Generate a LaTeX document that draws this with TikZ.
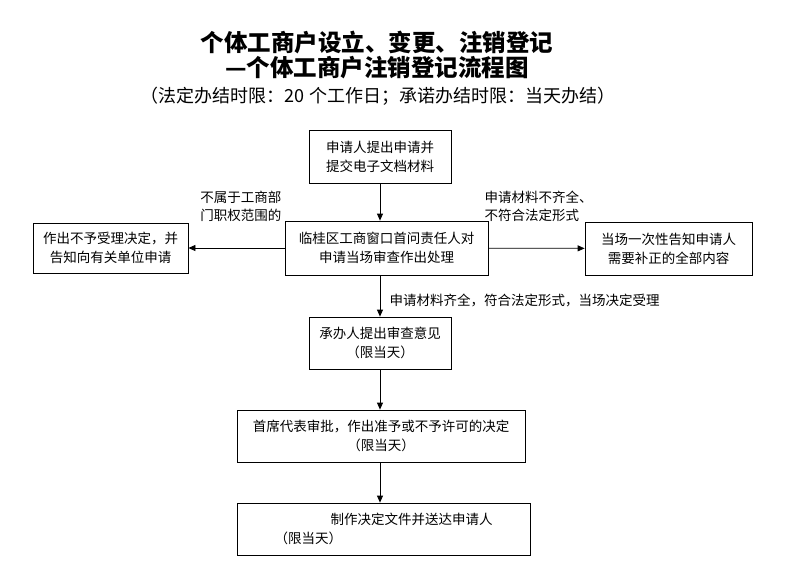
\documentclass[tikz,border=0pt]{standalone}
\usepackage{fontspec}
\setmainfont{Noto Sans CJK SC}
\usetikzlibrary{arrows.meta}
\tikzset{
  box/.style={draw,thick,align=center,font=\fontsize{13.5}{19}\selectfont,inner sep=2pt},
  flow/.style={thick,-{Triangle[length=7pt,width=6pt]}},
  note/.style={font=\fontsize{13.5}{18}\selectfont,align=left}
}
\begin{document}
\begin{tikzpicture}[x=1pt,y=-1pt]
      \useasboundingbox (0,0) rectangle (803,587);

      % titles
      \path (377,42) node {\fontsize{23.5}{26}\selectfont\bfseries 个体工商户设立、变更、注销登记};
      \path (377,68) node {\fontsize{23.5}{26}\selectfont\bfseries —个体工商户注销登记流程图};
      \path (378,96) node {\fontsize{18}{20}\selectfont （法定办结时限：20 个工作日；承诺办结时限：当天办结）};

      % boxes
      \node[box,minimum width=142,minimum height=53] (apply) at (380,156.5) {申请人提出申请并\\提交电子文档材料};
      \node[box,minimum width=203,minimum height=54] (check) at (386.5,248) {临桂区工商窗口首问责任人对\\申请当场审查作出处理};
      \node[box,minimum width=155,minimum height=50] (reject) at (110.5,248) {作出不予受理决定，并\\告知向有关单位申请};
      \node[box,minimum width=167,minimum height=53] (inform) at (668.5,248.5) {当场一次性告知申请人\\需要补正的全部内容};
      \node[box,minimum width=142,minimum height=52] (review) at (380,343) {承办人提出审查意见\\（限当天）};
      \node[box,minimum width=288,minimum height=52] (approve) at (381,436) {首席代表审批，作出准予或不予许可的决定\\（限当天）};
      \node[box,minimum width=293,minimum height=52,align=left] (issue) at (383.5,529) {\hspace*{56pt}制作决定文件并送达申请人\\（限当天）};

      % connectors
      \draw[flow] (apply) -- (apply |- check.north);
      \draw[flow] (check) -- (reject);
      \draw[flow] (check) -- (inform);
      \draw[flow] (apply |- check.south) -- (review);
      \draw[flow] (review) -- (review |- approve.north);
      \draw[flow] (review |- approve.south) -- (review |- issue.north);

      % labels
      \path (285,206) node[note,anchor=east] {不属于工商部\\门职权范围的};
      \path (481,206) node[note,anchor=west] {申请材料不齐全、\\不符合法定形式};
      \path (386,300) node[note,anchor=west] {申请材料齐全，符合法定形式，当场决定受理};
    \end{tikzpicture}
\end{document}
